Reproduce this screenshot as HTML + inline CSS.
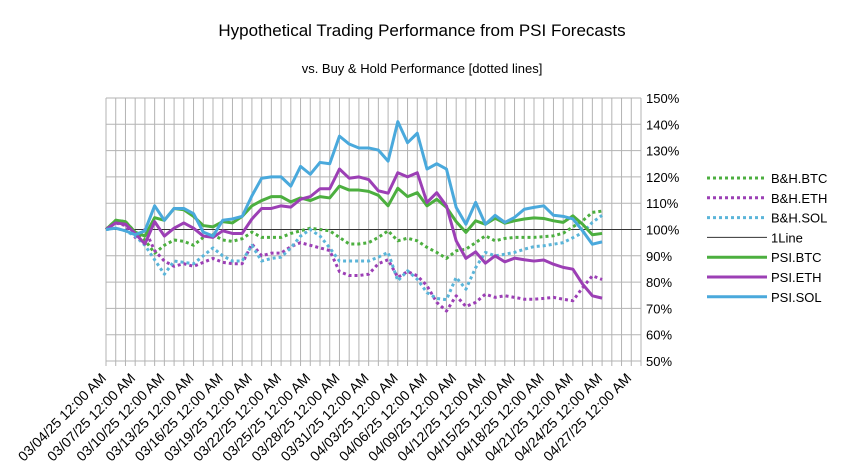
<!DOCTYPE html>
<html><head><meta charset="utf-8"><style>
body{margin:0;background:#fff;}
svg{display:block;font-family:"Liberation Sans",sans-serif;}
</style></head><body>
<svg id="chart" width="846" height="474" viewBox="0 0 846 474">
<text x="422" y="36" text-anchor="middle" font-size="17">Hypothetical Trading Performance from PSI Forecasts</text>
<text x="422" y="73" text-anchor="middle" font-size="13">vs. Buy &amp; Hold Performance [dotted lines]</text>
<g id="grid"></g><g id="series"></g><g id="axes"></g><g id="legend"></g>
</svg>
<script>
const startDate = [3, 4];
const dayCount = 55;
const yTicks = [50,60,70,80,90,100,110,120,130,140,150];
const psiBTC = [100,103.5,103,99,97.5,104.5,103.5,108,107.5,105,101.5,101,103,102.5,105,109,111,112.5,112.5,110.5,112,111,112.5,112,116.5,115,115,114.5,113,109,115.7,112.5,114,109,111.5,108.4,103,98.9,103.3,102,104.3,102.4,103.3,104,104.4,104.2,103.3,102.7,105.2,102,98,98.5];
const psiETH = [100,102.5,102,98.5,94.5,103,97.5,100.5,102.5,100.5,97.5,97,99.5,98.5,98.5,104,108,108,109,108.5,111.5,112.5,115.5,115.5,123,119.5,120,119,114.7,113.8,121.6,120,121.6,110.3,114,109,95.7,89,91.5,87.2,90,87.7,89.1,88.5,88,88.4,86.8,85.6,84.9,79.2,74.8,73.9];
const psiSOL = [100,100.5,99.5,98,99.5,109,103.5,108,108,106,99,97.5,103.5,104,105,112.8,119.5,120,120,116.5,124,121,125.5,125,135.5,132.5,131,131,130.2,126,141,133,136.6,123,125,123,108.4,102,110.3,102,105.4,102.7,104.6,107.7,108.4,109,105.4,105,104,99.5,94.4,95.3];
const bhBTC = [100,103.5,103,99,96,91,94,96,95.5,94,97,98,96,95.5,96.5,99,97,97,97,98.5,99.5,100.5,100,99.5,97,94.5,94.5,95,97,99.5,95.7,96.7,95.7,93.2,91.3,89,91.9,92.5,95,97.6,95.7,96.6,97,97,97,97.3,97.6,98.6,101,103.3,106.5,107];
const bhETH = [100,102.5,101.5,97,100,92,88,86,87,86,87.5,89,87.5,87,87,94.5,90,91,91,93.5,95,94,93,92,84,82.5,82.5,83,87,88.5,81.8,84,82.4,78.6,72.3,69,74.8,70.7,72.3,75.4,74.2,74.8,74.2,73.5,73.5,73.8,74.2,73.5,72.9,77.9,82.4,81];
const bhSOL = [100,100.5,99.5,97.5,94,88.5,83,88,87.5,87,90,93,90,88,88,94,88,89,89.5,93,97.5,100,97.5,93,88,88,88,88,89.5,91.3,80.5,84.3,81.1,76,73.8,73.3,81.8,77.3,85.5,91.3,90,90.6,91.3,92.5,93.5,93.8,94.4,95,96.9,98.8,102.7,105.4];
const seriesNames = ["B&H.BTC","B&H.ETH","B&H.SOL","1Line","PSI.BTC","PSI.ETH","PSI.SOL"];

const NS="http://www.w3.org/2000/svg";
const X0=106, X1=641, Y0=361, Y1=98;
const xS=i=>X0+(X1-X0)*i/dayCount;
const yS=v=>Y0-(v-50)/100*(Y0-Y1);
function mk(tag,attrs,parent){const e=document.createElementNS(NS,tag);for(const k in attrs)e.setAttribute(k,attrs[k]);parent.appendChild(e);return e;}
const grid=document.getElementById('grid'),ser=document.getElementById('series'),axes=document.getElementById('axes'),leg=document.getElementById('legend');
for(let i=0;i<=dayCount;i++){
  const l=mk('line',{x1:xS(i),x2:xS(i),y1:Y1,y2:Y0+5,stroke:'#b3b3b3','stroke-width':1},grid);
  
  
}
yTicks.forEach(v=>{
  const l=mk('line',{x1:X0,x2:X1,y1:yS(v),y2:yS(v),stroke:'#b3b3b3','stroke-width':1},grid);
  
  
  const t=mk('text',{x:X1+5,y:yS(v)+5,'font-size':13,fill:'#000'},axes);
  t.textContent=v+'%';
  
  
});
const mdays=[0,31,28,31,30];
function dateLabel(off){let m=startDate[0],d=startDate[1]+off;while(d>mdays[m]){d-=mdays[m];m++;}return String(m).padStart(2,'0')+'/'+String(d).padStart(2,'0')+'/25 12:00 AM';}
for(let i=0;i<=dayCount-1;i+=3){
  const x=xS(i)+1,y=Y0+18;
  const t=mk('text',{x:x,y:y,'font-size':14,'text-anchor':'end',transform:`rotate(-45 ${x} ${y})`},axes);
  t.textContent=dateLabel(i);
  
  
}
const styles=[
 {d:bhBTC,c:'#4caf3f',w:3,dash:'3 3'},
 {d:bhETH,c:'#9c3fb5',w:3,dash:'3 3'},
 {d:bhSOL,c:'#5bb5d9',w:3,dash:'3 3'},
 {d:null,c:'#333',w:1,dash:''},
 {d:psiBTC,c:'#4caf3f',w:3,dash:''},
 {d:psiETH,c:'#9c3fb5',w:3,dash:''},
 {d:psiSOL,c:'#4aa9dc',w:3,dash:''}];
const oneLine=mk('line',{x1:X0,x2:X1,y1:yS(100),y2:yS(100),stroke:'#333','stroke-width':1},ser);


styles.forEach((s,k)=>{
  if(s.d){
    const p=mk('polyline',{points:s.d.map((v,i)=>xS(i)+','+yS(v)).join(' '),fill:'none',stroke:s.c,'stroke-width':s.w,'stroke-dasharray':s.dash,'stroke-linejoin':'round'},ser);
    
    
  }
  const y=178+k*19.8;
  const g=mk('g',{},leg);
  
  
  mk('line',{x1:707,x2:767,y1:y,y2:y,stroke:s.c,'stroke-width':s.w,'stroke-dasharray':s.dash},g);
  const t=mk('text',{x:771,y:y+5,'font-size':13},g);
  t.textContent=seriesNames[k];
});
</script>
</body></html>
